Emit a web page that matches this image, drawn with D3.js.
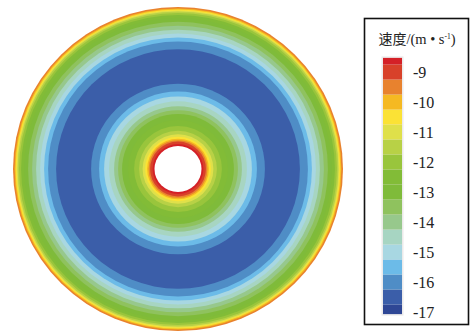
<!DOCTYPE html>
<html>
<head>
<meta charset="utf-8">
<script src="https://cdn.jsdelivr.net/npm/d3@7/dist/d3.min.js"></script>
<style>
  html, body { margin: 0; padding: 0; background: #fff; }
  svg { display: block; }
</style>
</head>
<body>
<svg id="chart" width="472" height="334"></svg>
<script>
// Radial velocity profile across the annulus (radius in px from the centre, speed in m/s)
const radius = [23.5, 25.5, 28, 29.5, 31, 33, 35.5, 39, 44, 50, 56, 60, 64, 69, 74, 79, 87, 105, 122, 130, 134, 138, 142, 146, 150, 154, 157, 159, 160.5, 161.5, 162.5, 163.5, 165];
const speed  = [-8.55, -8.75, -9.25, -9.75, -10.25, -10.75, -11.25, -11.75, -12.25, -12.75, -13.25, -13.75, -14.25, -14.75, -15.25, -15.75, -16.25, -16.5, -16.25, -15.75, -15.25, -14.75, -14.25, -13.75, -13.25, -12.75, -12.25, -11.75, -11.25, -10.75, -10.25, -9.75, -9.4];

// Contour levels (ascending) and their fill colours, lowest band first
const levels = [-16.75, -16.25, -15.75, -15.25, -14.75, -14.25, -13.75, -13.25, -12.75, -12.25, -11.75, -11.25, -10.75, -10.25, -9.75, -9.25, -8.75];
const bandColors = ["#2f4795", "#3b5ea9", "#4f8dc6", "#6cbbe8", "#a8d7e2", "#a7d5c2", "#97c88c", "#8fc25e", "#7fbb3a", "#82bc37", "#99c53c", "#b8d146", "#dfe04a", "#fbe235", "#f5b922", "#e8822e", "#d8412a", "#d42027"];

// Colour bar extent and tick labels
const barDomain = [-8.53, -17.07];
const tickValues = [-9, -10, -11, -12, -13, -14, -15, -16, -17];

const svg = d3.select("#chart");

const speedAt = d3.scaleLinear().domain(radius).range(speed).clamp(true);
const color = d3.scaleThreshold().domain(levels).range(bandColors);

// ---- Contour disc ----
const cx = 178, cy = 169;
const disc = svg.append("g").attr("transform", `translate(${cx},${cy}) scale(1,0.982)`);

// Split the radius range into runs of constant band, outermost first
const rInner = radius[0], rOuter = radius[radius.length - 1];
const step = 0.1;
const runs = [];
let current = null;
for (let r = rOuter; r >= rInner - 1e-9; r -= step) {
  const c = color(speedAt(r));
  if (!current || current.color !== c) {
    current = { outer: r, color: c };
    runs.push(current);
  }
}
disc.selectAll("circle.band")
  .data(runs)
  .join("circle")
  .attr("class", "band")
  .attr("r", d => d.outer)
  .attr("fill", d => d.color);

disc.append("circle").attr("r", rInner).attr("fill", "#fff");

// ---- Legend ----
const legend = svg.append("g");
legend.append("rect")
  .attr("x", 364.5).attr("y", 18.5)
  .attr("width", 104).attr("height", 306)
  .attr("fill", "#fff").attr("stroke", "#111").attr("stroke-width", 1.6);

const title = legend.append("text")
  .attr("x", 417).attr("y", 44)
  .attr("text-anchor", "middle")
  .attr("font-size", 14.5)
  .attr("fill", "#222");
title.append("tspan").attr("font-family", "'Noto Sans CJK SC', sans-serif").attr("font-size", 14).text("速度");
title.append("tspan").attr("font-family", "'Liberation Serif', serif").text("/(m • s");
title.append("tspan").attr("font-family", "'Liberation Serif', serif").attr("font-size", 7.5).attr("dy", -5.5).text("-1");
title.append("tspan").attr("font-family", "'Liberation Serif', serif").attr("dy", 5.5).text(")");

const yBar = d3.scaleLinear().domain([-9, -17]).range([72, 312]);
const barX = 383, barW = 19;

// Bar bands: each band spans between consecutive levels, clipped to the bar extent
const barBands = bandColors.map((c, i) => {
  const lo = i === 0 ? barDomain[1] : levels[i - 1];
  const hi = i === bandColors.length - 1 ? barDomain[0] : levels[i];
  return { lo, hi, color: c };
});
legend.append("rect")
  .attr("x", barX - 1.5).attr("y", yBar(barDomain[0]) - 1.5)
  .attr("width", barW + 3).attr("height", yBar(barDomain[1]) - yBar(barDomain[0]) + 3)
  .attr("fill", "#eceaea");
legend.selectAll("rect.bar")
  .data(barBands)
  .join("rect")
  .attr("class", "bar")
  .attr("x", barX)
  .attr("width", barW)
  .attr("y", d => yBar(d.hi))
  .attr("height", d => yBar(d.lo) - yBar(d.hi))
  .attr("fill", d => d.color);

const axis = d3.axisRight(yBar).tickValues(tickValues).tickSize(0).tickPadding(0).tickFormat(d => String(d));
const axisG = legend.append("g").attr("transform", "translate(413,0)").call(axis);
axisG.select(".domain").remove();
axisG.selectAll("text")
  .attr("font-family", "'Liberation Serif', serif")
  .attr("font-size", 16)
  .attr("fill", "#222")
  .attr("dy", "0.35em");
</script>
</body>
</html>
